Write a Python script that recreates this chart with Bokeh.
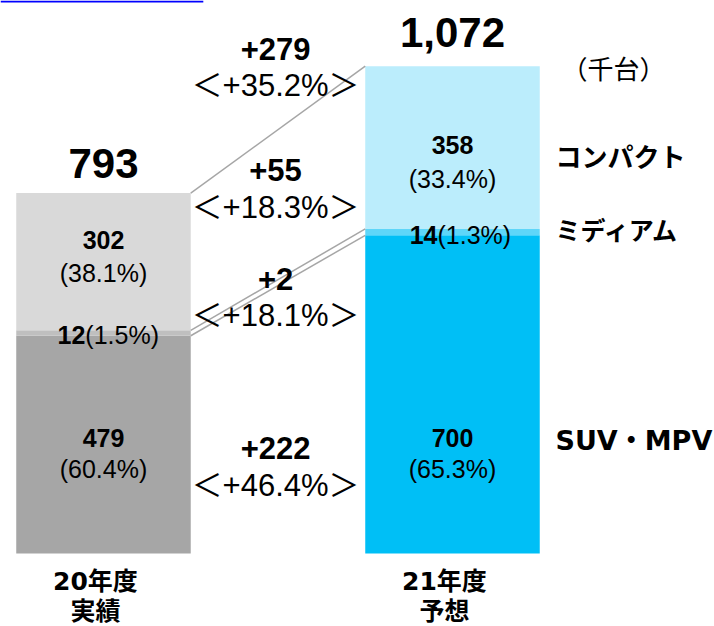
from bokeh.plotting import figure
from bokeh.models import Range1d
from bokeh.core.properties import value
from bokeh.embed import file_html
from bokeh.resources import INLINE

# ---------------- data ----------------
year_line1 = ["20年度", "21年度"]
year_line2 = ["実績", "予想"]
segments = ["SUV・MPV", "ミディアム", "コンパクト"]
suv = [479, 700]
medium = [12, 14]
compact = [302, 358]
totals = ["793", "1,072"]
suv_pct = ["(60.4%)", "(65.3%)"]
medium_pct = ["(1.5%)", "(1.3%)"]
compact_pct = ["(38.1%)", "(33.4%)"]
diff_total = ["+279", "＜+35.2%＞"]
diff_compact = ["+55", "＜+18.3%＞"]
diff_medium = ["+2", "＜+18.1%＞"]
diff_suv = ["+222", "＜+46.4%＞"]
unit = "（千台）"

# ---------------- styles / layout ----------------
LATIN = value("'Liberation Sans', 'Noto Sans CJK JP'")
CJK = value("'Noto Sans CJK JP'")
WIDE = value("'DejaVu Sans', 'Noto Sans CJK JP'")
left_cols = ["#A6A6A6", "#BFBFBF", "#D9D9D9"]
right_cols = ["#00BFF6", "#5ED6F9", "#BBEDFC"]
W = 0.5
xs = [0, 1]
mid_x = 0.493
X0, X1 = -0.2951, 1.7507
cat_dx = -0.023

p = figure(width=714, height=626, output_backend="svg", toolbar_location=None,
           x_range=Range1d(X0, X1), y_range=Range1d(-160.6, 1216.6),
           min_border=0)
p.axis.visible = False
p.grid.visible = False
p.outline_line_color = None
p.background_fill_color = "white"

# stacked bars
layers = [suv, medium, compact]
bottoms = [0, 0]
tops_by_layer = []
for li, vals in enumerate(layers):
    tops = [b + v for b, v in zip(bottoms, vals)]
    p.vbar(x=xs, width=W, bottom=bottoms, top=tops,
           fill_color=[left_cols[li], right_cols[li]], line_color=None)
    tops_by_layer.append(tops)
    bottoms = tops

# connecting lines
for tops in tops_by_layer:
    p.line(x=[xs[0] + W / 2, xs[1] - W / 2], y=tops, line_color="#A6A6A6", line_width=1.5)

# blue line at top-left
p.line(x=[X0, 0.286], y=[1214.4, 1214.4], line_color="#0000FF", line_width=2)

def txt(x, y, t, size, font=LATIN, style="bold", align="center", color="black"):
    p.text(x=x, y=y, text=t, text_font=font, text_font_size=size,
           text_font_style=style, text_align=align, text_baseline="middle",
           text_color=color)

# totals
txt(xs, [858, 1146], totals, "42px")

# segment values inside bars
txt(xs, [255, 255], [str(v) for v in suv], "25px")
txt(xs, [187, 187], suv_pct, "25px", style="normal")
txt(xs, [689, 898], [str(v) for v in compact], "25px")
txt(xs, [618, 825], compact_pct, "25px", style="normal")
split = [-0.052, -0.043]
txt([x + s for x, s in zip(xs, split)], [480, 700], [str(v) for v in medium], "25px", align="right")
txt([x + s for x, s in zip(xs, split)], [480, 700], medium_pct, "25px", style="normal", align="left")

# differences
txt([mid_x], [1111], [diff_total[0]], "31px")
txt([mid_x], [1030], [diff_total[1]], "31px", style="normal")
txt([mid_x], [843], [diff_compact[0]], "31px")
txt([mid_x], [761], [diff_compact[1]], "31px", style="normal")
txt([mid_x], [605], [diff_medium[0]], "31px")
txt([mid_x], [524], [diff_medium[1]], "31px", style="normal")
txt([mid_x], [233], [diff_suv[0]], "31px")
txt([mid_x], [150], [diff_suv[1]], "31px", style="normal")

# legend labels on the right
txt([1.295], [249], [segments[0]], "27px", font=WIDE, align="left")
txt([1.295], [715], [segments[1]], "25px", font=CJK, align="left")
txt([1.295], [876], [segments[2]], "26px", font=CJK, align="left")
txt([1.461], [1069], [unit], "26px", font=CJK, style="normal")

# category labels
txt([x + cat_dx for x in xs], [-62, -62], year_line1, "25px", font=WIDE)
txt([x + cat_dx for x in xs], [-123, -123], year_line2, "25px", font=CJK)

open("out.html", "w").write(file_html(p, INLINE))
